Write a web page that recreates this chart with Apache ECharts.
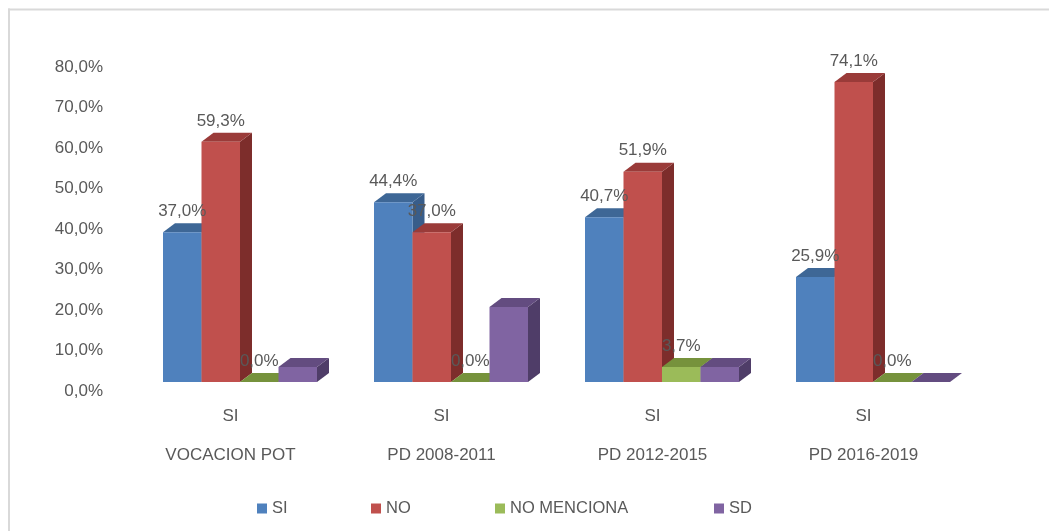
<!DOCTYPE html>
<html>
<head>
<meta charset="utf-8">
<style>
html,body{margin:0;padding:0;background:#fff;}
#chart{width:1049px;height:531px;}
</style>
<script src="https://cdn.jsdelivr.net/npm/echarts@6/dist/echarts.min.js"></script>
</head>
<body>
<div id="chart"></div>
<script>
var categories = ['VOCACION POT', 'PD 2008-2011', 'PD 2012-2015', 'PD 2016-2019'];
var subLabel = 'SI';
var seriesNames = ['SI', 'NO', 'NO MENCIONA', 'SD'];
var siValues = [37.0, 44.4, 40.7, 25.9];
var noValues = [59.3, 37.0, 51.9, 74.1];
var noMencionaValues = [0.0, 0.0, 3.7, 0.0];
var sdValues = [3.7, 18.5, 3.7, 0.0];
var showLabels = [true, true, true, false];
var yTicks = { min: 0, max: 80, interval: 10 };

var faceColors = [
  { front: '#4F81BD', top: '#3E6796', side: '#385D8A' },
  { front: '#C0504D', top: '#9A3B39', side: '#7D2D2B' },
  { front: '#9BBB59', top: '#76923C', side: '#627A31' },
  { front: '#8064A2', top: '#634C80', side: '#4F3D68' }
];
var allValues = [siValues, noValues, noMencionaValues, sdValues];

var BAR_W = 38.5, GROUP_OFF = -67.5, LIFT = 9, DX = 12, DY = -9;
var TXT = '#595959';
var FONT = 'Liberation Sans';

function fmt(v) { return v.toFixed(1).replace('.', ',') + '%'; }

function makeRender(s) {
  return function (params, api) {
    var idx = api.value(0), v = api.value(1);
    var top = api.coord([idx, v]);
    var base = api.coord([idx, 0]);
    var x0 = top[0] + GROUP_OFF + s * BAR_W;
    var x1 = x0 + BAR_W;
    var yt = top[1] - LIFT;
    var yb = base[1] - LIFT;
    var c = faceColors[s];
    var children = [
      { type: 'polygon', z2: s * 10, shape: { points: [[x1, yt], [x1 + DX, yt + DY], [x1 + DX, yb + DY], [x1, yb]] }, style: { fill: c.side } },
      { type: 'polygon', z2: s * 10 + 1, shape: { points: [[x0, yt], [x0 + DX, yt + DY], [x1 + DX, yt + DY], [x1, yt]] }, style: { fill: c.top } },
      { type: 'rect', z2: s * 10 + 2, shape: { x: x0, y: yt, width: BAR_W, height: Math.max(yb - yt, 0) }, style: { fill: c.front } }
    ];
    if (showLabels[s]) {
      children.push({
        type: 'text', z2: 100,
        style: { text: fmt(v), x: (x0 + x1) / 2, y: yt - 21, align: 'center', verticalAlign: 'middle', fill: TXT, font: '17px "' + FONT + '"' }
      });
    }
    return { type: 'group', children: children };
  };
}

var series = seriesNames.map(function (name, s) {
  return {
    name: name,
    type: 'custom',
    z: 2,
    itemStyle: { color: faceColors[s].front },
    renderItem: makeRender(s),
    encode: { x: 0, y: 1 },
    data: allValues[s].map(function (v, i) { return [i, v]; })
  };
});

var legendLefts = [257, 371, 495, 714];
var legends = seriesNames.map(function (n, i) {
  return {
    data: [{ name: n, icon: 'rect' }],
    left: legendLefts[i], top: 500,
    itemWidth: 10, itemHeight: 10, itemGap: 5,
    selectedMode: false,
    textStyle: { color: TXT, fontSize: 16.5, fontFamily: FONT, padding: [0, 0, 0, 0] },
    padding: 0
  };
});

var chart = echarts.init(document.getElementById('chart'));
chart.setOption({
  animation: false,
  backgroundColor: '#fff',
  textStyle: { fontFamily: FONT },
  grid: { left: 125, right: 80, top: 67, bottom: 140 },
  xAxis: {
    type: 'category',
    data: categories,
    axisLine: { show: false },
    axisTick: { show: false },
    splitLine: { show: false },
    axisLabel: {
      margin: 5,
      formatter: function (name) { return '{a|' + subLabel + '}\n{b|' + name + '}'; },
      rich: {
        a: { fontSize: 17, lineHeight: 40, color: TXT, fontFamily: FONT },
        b: { fontSize: 17, lineHeight: 38, color: TXT, fontFamily: FONT }
      }
    }
  },
  yAxis: {
    type: 'value',
    min: yTicks.min, max: yTicks.max, interval: yTicks.interval,
    axisLine: { show: false },
    axisTick: { show: false },
    splitLine: { show: false },
    axisLabel: { margin: 22, color: TXT, fontSize: 17, fontFamily: FONT, formatter: function (v) { return fmt(v); } }
  },
  legend: legends,
  graphic: [
    { type: 'line', shape: { x1: 8, y1: 9.5, x2: 1049, y2: 9.5 }, style: { stroke: '#d9d9d9', lineWidth: 2 } },
    { type: 'line', shape: { x1: 9, y1: 8.5, x2: 9, y2: 531 }, style: { stroke: '#d9d9d9', lineWidth: 2 } }
  ],
  series: series
});
</script>
</body>
</html>
